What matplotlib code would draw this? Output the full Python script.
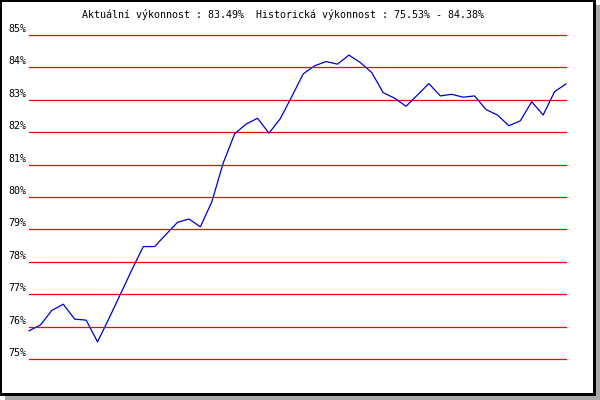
import matplotlib
matplotlib.use("Agg")
import matplotlib.pyplot as plt
from matplotlib.patches import Rectangle

# data
values = [75.87, 76.05, 76.50, 76.69, 76.23, 76.20, 75.53, 76.25, 77.00, 77.75,
          78.47, 78.47, 78.85, 79.22, 79.32, 79.08, 79.85, 81.05, 81.95, 82.25,
          82.43, 81.97, 82.42, 83.10, 83.80, 84.05, 84.18, 84.10, 84.38, 84.15,
          83.84, 83.22, 83.05, 82.80, 83.15, 83.50, 83.12, 83.17, 83.08, 83.12,
          82.70, 82.53, 82.20, 82.35, 82.94, 82.53, 83.25, 83.49]
grid_levels = [75, 76, 77, 78, 79, 80, 81, 82, 83, 84, 85]
tick_labels = ["75%", "76%", "77%", "78%", "79%", "80%", "81%", "82%", "83%", "84%", "85%"]
title = "Aktuální výkonnost : 83.49%  Historická výkonnost : 75.53% - 84.38%"

W, H = 600, 400
fig = plt.figure(figsize=(6, 4), dpi=100)
fig.patch.set_facecolor("white")

def px_rect(x0, y0, x1, y1, color):
    # image pixel coords (y down) -> figure fraction
    fig.patches.append(Rectangle((x0 / W, 1 - y1 / H), (x1 - x0) / W, (y1 - y0) / H,
                                 transform=fig.transFigure, facecolor=color,
                                 edgecolor="none", zorder=-10))

px_rect(5, 5, 600, 400, "#a8a8a8")
px_rect(0, 0, 595.5, 396, "black")
px_rect(2, 2, 593, 392.5, "white")

left, right = 29, 566
top, bottom = 35, 359
ax = fig.add_axes([left / W, 1 - bottom / H, (right - left) / W, (bottom - top) / H])
ax.set_xlim(0, len(values) - 1)
ax.set_ylim(75, 85)
ax.axis("off")

for lvl, lab in zip(grid_levels, tick_labels):
    ax.axhline(lvl, color="#ff0000", lw=0.9, zorder=1, clip_on=False)
    ax.annotate(lab, xy=(0, lvl), xycoords=("axes fraction", "data"),
                xytext=(-3, 3), textcoords="offset pixels",
                ha="right", va="baseline", fontsize=7.2,
                family="DejaVu Sans Mono", color="black", annotation_clip=False)

ax.plot(range(len(values)), values, color="#0000c8", lw=0.9, zorder=2, clip_on=False)

fig.text(82 / W, 1 - 18 / H, title, ha="left", va="baseline", fontsize=7.2,
         family="DejaVu Sans Mono", color="black")

fig.savefig("out.png", dpi=100)
